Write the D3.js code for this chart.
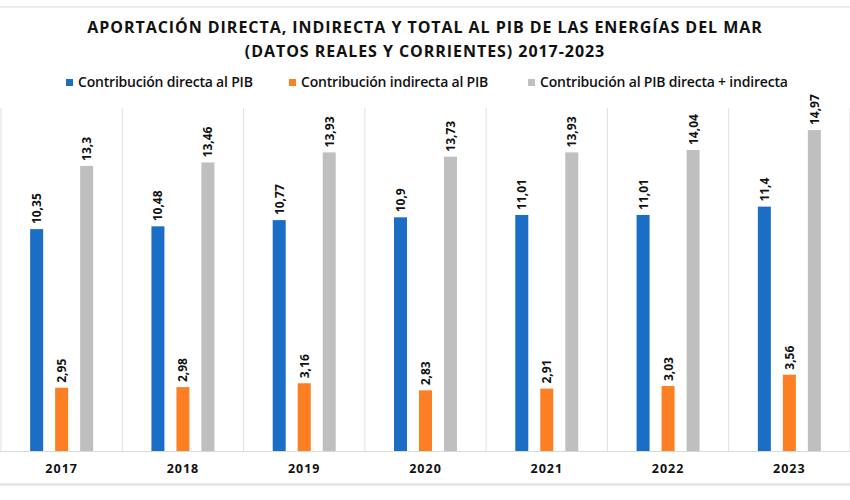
<!DOCTYPE html>
<html><head><meta charset="utf-8">
<script src="https://cdn.jsdelivr.net/npm/d3@7"></script>
<style>body{margin:0;background:#fff}svg{display:block}</style>
</head><body><svg id="c" width="850" height="500"></svg>
<script>
const years = ["2017","2018","2019","2020","2021","2022","2023"];
const seriesNames = ["Contribución directa al PIB","Contribución indirecta al PIB","Contribución al PIB directa + indirecta"];
const directa = [10.35,10.48,10.77,10.9,11.01,11.01,11.4];
const indirecta = [2.95,2.98,3.16,2.83,2.91,3.03,3.56];
const total = [13.3,13.46,13.93,13.73,13.93,14.04,14.97];
const labelsDirecta = ["10,35","10,48","10,77","10,9","11,01","11,01","11,4"];
const labelsIndirecta = ["2,95","2,98","3,16","2,83","2,91","3,03","3,56"];
const labelsTotal = ["13,3","13,46","13,93","13,73","13,93","14,04","14,97"];
const colors = ["#1a6ec6","#fd7f24","#bfbfbf"];
const titleLines = ["APORTACIÓN DIRECTA, INDIRECTA Y TOTAL AL PIB DE LAS ENERGÍAS DEL MAR","(DATOS REALES Y CORRIENTES) 2017-2023"];

(function(){
const svg = d3.select("#c");
const font = "'Open Sans', sans-serif";
const plotTop = 108, plotBottom = 451;
const x = d3.scaleBand().domain(years).range([1, 850]).padding(0);
const bw = x.bandwidth();
const xs = d3.scaleBand().domain(seriesNames).range([bw/2-37.5, bw/2+37.5]).paddingInner(0.48).paddingOuter(0.24);
const y = d3.scaleLinear().domain([0,16]).range([plotBottom, plotTop]);

svg.append("line").attr("x1",0).attr("x2",850).attr("y1",7).attr("y2",7).attr("stroke","#e6e6e6").attr("stroke-width",1.5);
svg.append("line").attr("x1",0).attr("x2",850).attr("y1",484.5).attr("y2",484.5).attr("stroke","#e3e3e3").attr("stroke-width",2.5);

const seps = years.map(d=>x(d)).concat([x(years[years.length-1])+bw]);
svg.selectAll(".sep").data(seps).join("line")
  .attr("x1",d=>d).attr("x2",d=>d).attr("y1",plotTop).attr("y2",plotBottom)
  .attr("stroke","#e0e0e0").attr("stroke-width",1);
svg.append("line").attr("x1",0).attr("x2",850).attr("y1",plotBottom+0.5).attr("y2",plotBottom+0.5).attr("stroke","#d9d9d9").attr("stroke-width",1);

svg.selectAll(".title").data(titleLines).join("text")
  .attr("x",425).attr("y",(d,i)=>33+i*24).attr("text-anchor","middle")
  .attr("font-family",font).attr("font-weight",700).attr("font-size",16)
  .attr("letter-spacing",0.95).attr("fill","#111").text(d=>d);

const legX = [66, 289, 528];
const lg = svg.selectAll(".leg").data(seriesNames).join("g").attr("transform",(d,i)=>`translate(${legX[i]},87)`);
lg.append("rect").attr("x",0).attr("y",-8).attr("width",7).attr("height",7).attr("fill",(d,i)=>colors[i]);
lg.append("text").attr("x",12).attr("y",0).attr("font-family",font).attr("font-weight",600).attr("font-size",14)
  .attr("letter-spacing",-0.2).attr("fill","#111").text(d=>d);

const series = [directa, indirecta, total];
const labels = [labelsDirecta, labelsIndirecta, labelsTotal];
series.forEach((vals,si)=>{
  const g = svg.append("g");
  g.selectAll("rect").data(vals).join("rect")
    .attr("x",(d,i)=>x(years[i])+xs(seriesNames[si]))
    .attr("width",xs.bandwidth())
    .attr("y",d=>y(d)).attr("height",d=>plotBottom-y(d))
    .attr("fill",colors[si]);
  g.selectAll("text").data(vals).join("text")
    .attr("transform",(d,i)=>`translate(${x(years[i])+xs(seriesNames[si])+xs.bandwidth()/2+4.5},${y(d)-5}) rotate(-90)`)
    .attr("font-family",font).attr("font-weight",700).attr("font-size",12)
    .attr("fill","#111").text((d,i)=>labels[si][i]);
});

svg.selectAll(".yr").data(years).join("text")
  .attr("x",d=>x(d)+bw/2).attr("y",473).attr("text-anchor","middle")
  .attr("font-family",font).attr("font-weight",700).attr("font-size",12.5)
  .attr("letter-spacing",1).attr("fill","#111").text(d=>d);
})();
</script></body></html>
